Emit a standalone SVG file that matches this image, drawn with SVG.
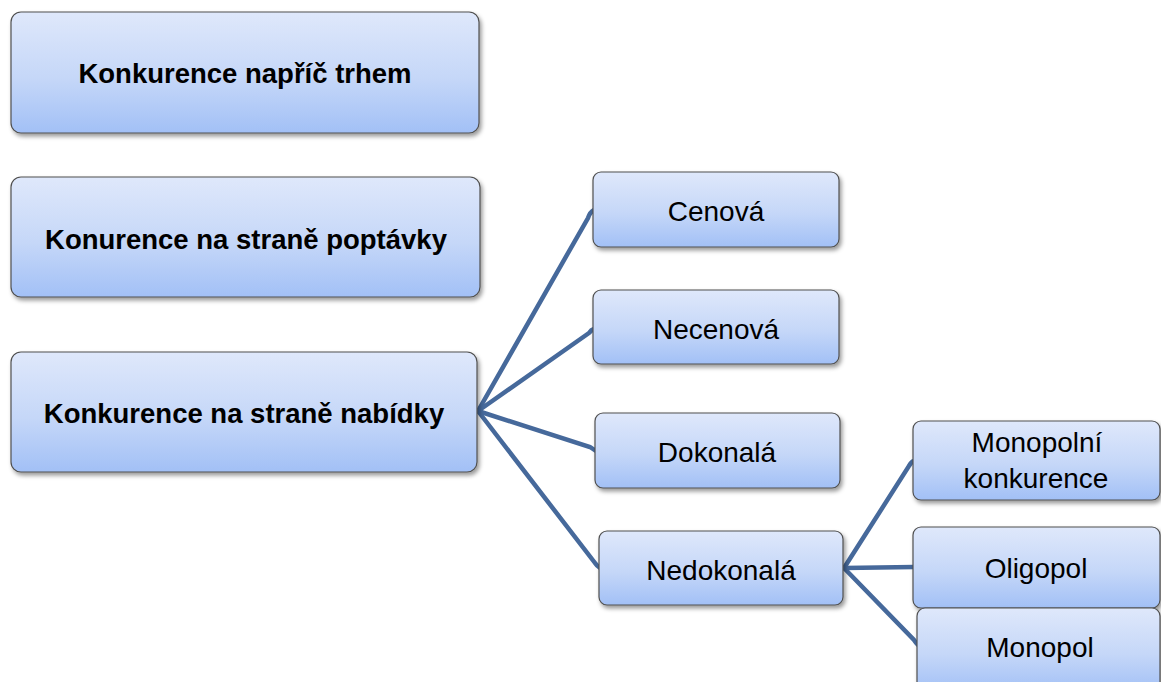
<svg xmlns="http://www.w3.org/2000/svg" width="1161" height="682" viewBox="0 0 1161 682">
<defs>
<linearGradient id="g" x1="0" y1="0" x2="0" y2="1">
<stop offset="0" stop-color="#DFE8FB"/>
<stop offset="0.55" stop-color="#C5D7F8"/>
<stop offset="1" stop-color="#A2C0F6"/>
</linearGradient>
<filter id="sh" x="-10%" y="-10%" width="125%" height="140%">
<feDropShadow dx="2" dy="3" stdDeviation="2" flood-color="#000" flood-opacity="0.4"/>
</filter>
</defs>
<style>
.box{fill:url(#g);stroke:#505050;stroke-width:1.2;filter:url(#sh)}
.t{font-family:"Liberation Sans",Arial,sans-serif;font-size:28px;fill:#000;text-anchor:middle}
.b{font-weight:bold;font-size:27.5px}
.c{fill:none;stroke:#46699B;stroke-width:4.5;stroke-linecap:round}
</style>
<rect width="1161" height="682" fill="#fff"/>
<g id="connectors">
<path class="c" d="M478,411 L588,218 Q590,212 594,210"/>
<path class="c" d="M478,411 L589,333 Q591,330 594,329"/>
<path class="c" d="M478,411 L590,447 Q593,449 596,451"/>
<path class="c" d="M478,411 L595,563 Q597,566 600,568"/>
<path class="c" d="M844,568 L909,466 Q911,462 914,461"/>
<path class="c" d="M844,568 L914,567"/>
<path class="c" d="M844,568 L914,640 Q916,643 918,645"/>
</g>
<g id="n1"><rect class="box" x="11" y="12" width="468" height="121" rx="10"/><text class="t b" x="245" y="83">Konkurence napříč trhem</text></g>
<g id="n2"><rect class="box" x="11" y="177" width="469" height="120" rx="10"/><text class="t b" x="246" y="249">Konurence na straně poptávky</text></g>
<g id="n3"><rect class="box" x="11" y="352" width="466" height="120" rx="10"/><text class="t b" x="244" y="423">Konkurence na straně nabídky</text></g>
<g id="n4"><rect class="box" x="593" y="172" width="246" height="75" rx="8"/><text class="t" x="716" y="221">Cenová</text></g>
<g id="n5"><rect class="box" x="593" y="290" width="246" height="74" rx="8"/><text class="t" x="716" y="339">Necenová</text></g>
<g id="n6"><rect class="box" x="595" y="413" width="245" height="75" rx="8"/><text class="t" x="717" y="462">Dokonalá</text></g>
<g id="n7"><rect class="box" x="599" y="531" width="244" height="74" rx="8"/><text class="t" x="721" y="580">Nedokonalá</text></g>
<g id="n8"><rect class="box" x="913" y="421" width="247" height="79" rx="8"/><text class="t" x="1037" y="452">Monopolní</text><text class="t" x="1036" y="488">konkurence</text></g>
<g id="n9"><rect class="box" x="913" y="527" width="247" height="81" rx="8"/><text class="t" x="1036" y="578">Oligopol</text></g>
<g id="n10"><rect class="box" x="917" y="608" width="243" height="84" rx="8"/><text class="t" x="1040" y="657">Monopol</text></g>
</svg>
